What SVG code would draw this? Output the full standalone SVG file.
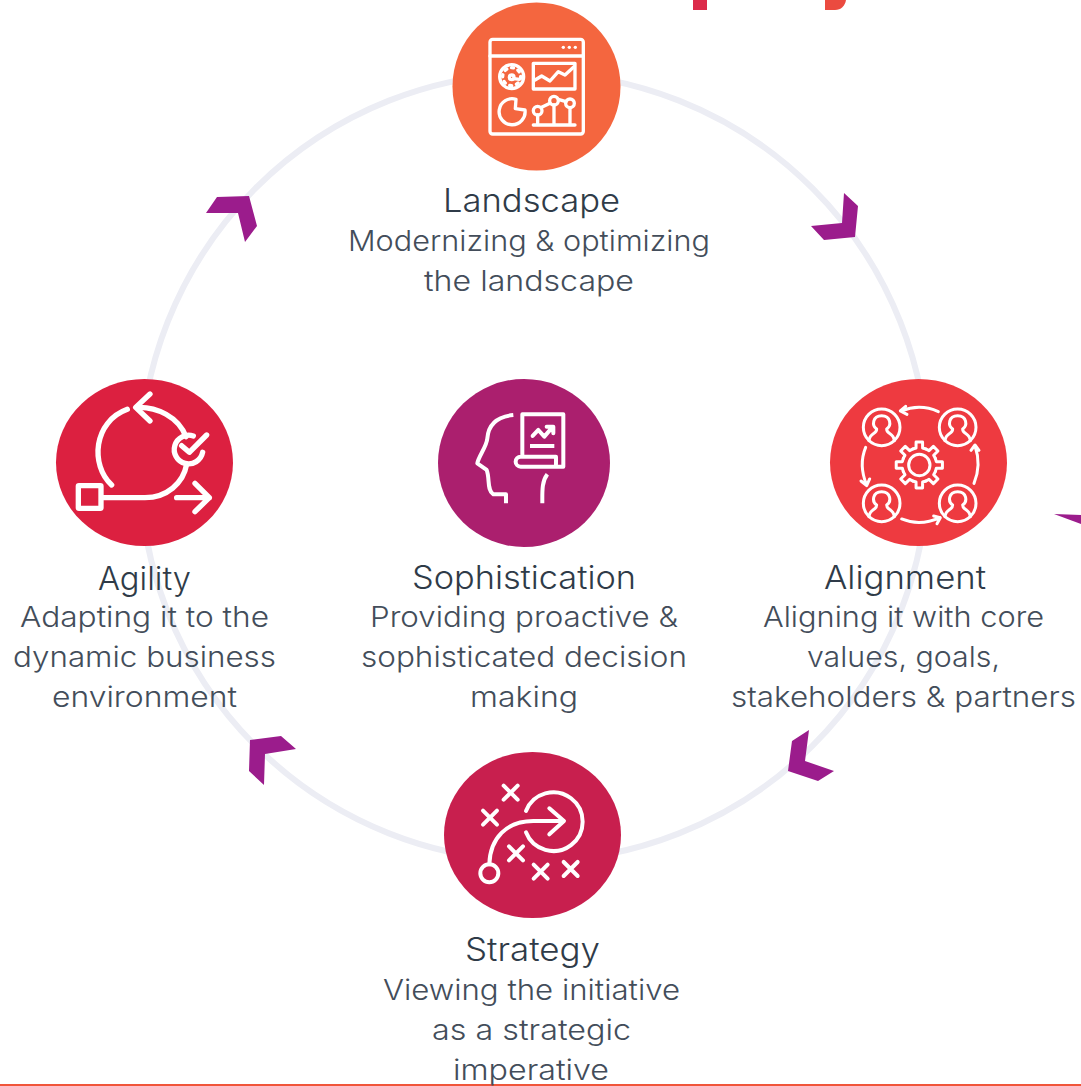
<svg xmlns="http://www.w3.org/2000/svg" xmlns:xlink="http://www.w3.org/1999/xlink" width="1081" height="1086" viewBox="0 0 1081 1086">
<style>
text{font-family:Inter,"Liberation Sans",sans-serif}
.t{font-size:32px;font-weight:300;fill:#2f3b48}
.b{font-size:28px;font-weight:300;fill:#434d5a}
.i{fill:none;stroke:#fff;stroke-linecap:round;stroke-linejoin:round}
.a{fill:#9b1c8c}
</style>
<defs>
<g id="person"><circle r="55"/><path d="M-38 40C-35 15-15 22-15 5C-30-5-28-35 0-35C28-35 30-5 15 5C15 22 35 15 38 40"/></g>
<path id="tooth" d="M-19.9-48L-9.9-51L-9.7-69.3H9.7L9.9-51L19.9-48"/>
<path id="x" d="M-21-21L21 21M21-21L-21 21"/>
</defs>
<rect x="693" y="0" width="14" height="10" fill="#dc2a4a"/>
<path d="M825 0H846C845 6 841 10 835 10H825Z" fill="#eb4b40"/>
<rect x="0" y="1084" width="1081" height="2" fill="#f0553a"/>
<g id="connectors">
<circle cx="534" cy="467" r="394" fill="none" stroke="#ecedf4" stroke-width="6"/>
<polygon class="a" points="206,213 217,197 249,196 257,226 245,242 238,213"/>
<polygon class="a" points="844,193 858,206 855,237 824,240 811,226 842,223"/>
<polygon class="a" points="809,730 792,741 788,771 818,781 834,771 805,761"/>
<polygon class="a" points="250,740 281,736 296,749 265,754 264,785 249,771"/>
<polygon class="a" points="1054,514 1081,515 1081,524"/>
</g>
<g id="landscape">
<circle cx="536.5" cy="86.5" r="84" fill="#f4663f"/>
<g transform="translate(440,0) scale(.3333)" class="i" stroke-width="10">
<rect x="150" y="118" width="280" height="284" rx="8"/>
<path d="M150 168H430"/>
<g style="fill:#fff;stroke:none"><circle cx="370" cy="142" r="5"/><circle cx="388" cy="142" r="5"/><circle cx="406" cy="142" r="5"/></g>
<circle cx="215" cy="230" r="36"/><circle cx="215" cy="230" r="27" stroke-dasharray="6 15"/>
<circle cx="215" cy="232" r="7"/><path d="M222 236L238 238"/>
<rect x="280" y="190" width="125" height="77"/>
<path d="M285 240L305 228L330 243L355 215L375 225L402 200"/>
<path d="M228 298A39 39 0 1 0 255 330L226 326Z"/>
<circle cx="293" cy="332" r="13"/><circle cx="342" cy="302" r="13"/><circle cx="390" cy="310" r="13"/>
<path d="M293 345V375M342 315V375M390 323V375M280 375H405M305 322L330 310M355 298L378 305"/>
</g>
<text class="t" x="443" y="212" textLength="177" lengthAdjust="spacingAndGlyphs">Landscape</text>
<text class="b" x="348" y="251" textLength="362" lengthAdjust="spacingAndGlyphs">Modernizing &amp; optimizing</text>
<text class="b" x="424" y="291" textLength="210" lengthAdjust="spacingAndGlyphs">the landscape</text>
</g>
<g id="agility">
<ellipse cx="144.5" cy="462.5" rx="88.5" ry="83.5" fill="#dc2040"/>
<g transform="translate(50,375) scale(.3333)" class="i" stroke-width="16">
<rect x="85" y="332" width="68" height="68" rx="2"/>
<path d="M155 368H285C350 368 400 325 410 268"/>
<path d="M185 330C120 270 130 140 232 103"/>
<path d="M262 97C320 95 385 125 408 185"/>
<path d="M300 57L257 97L300 138"/>
<path d="M430 183A43 43 0 1 0 458 232"/>
<path d="M395 212L418 232L470 180"/>
<path d="M380 368H478M435 325L478 368L435 410"/>
</g>
<text class="t" x="98" y="590" textLength="93" lengthAdjust="spacingAndGlyphs">Agility</text>
<text class="b" x="20" y="627" textLength="249" lengthAdjust="spacingAndGlyphs">Adapting it to the</text>
<text class="b" x="13" y="667" textLength="263" lengthAdjust="spacingAndGlyphs">dynamic business</text>
<text class="b" x="52" y="707" textLength="185" lengthAdjust="spacingAndGlyphs">environment</text>
</g>
<g id="sophistication">
<ellipse cx="524" cy="463" rx="86" ry="84" fill="#ab1f6e"/>
<g transform="translate(430,375) scale(.3333)" class="i" stroke-width="12">
<path d="M250 120C200 125 175 150 172 190C170 215 145 245 142 265L170 285C180 310 170 345 190 358H228V385" stroke-linecap="butt"/>
<path d="M352 298C335 320 337 350 337 385" stroke-linecap="butt"/>
<path d="M277 245V118H400V275H272A15 15 0 0 1 272 245H378V268"/>
<path d="M308 183L325 165L343 185L366 158M350 155H370V175"/>
<path d="M300 213H373" stroke-linecap="butt"/>
</g>
<text class="t" x="412" y="589" textLength="224" lengthAdjust="spacingAndGlyphs">Sophistication</text>
<text class="b" x="370" y="627" textLength="308" lengthAdjust="spacingAndGlyphs">Providing proactive &amp;</text>
<text class="b" x="361" y="667" textLength="326" lengthAdjust="spacingAndGlyphs">sophisticated decision</text>
<text class="b" x="470" y="707" textLength="108" lengthAdjust="spacingAndGlyphs">making</text>
</g>
<g id="alignment">
<ellipse cx="918.5" cy="462.5" rx="88.5" ry="83.5" fill="#ee3a40"/>
<g transform="translate(825,375) scale(.3333)" class="i" stroke-width="9">
<use href="#person" x="170" y="157"/><use href="#person" x="398" y="157"/><use href="#person" x="170" y="385"/><use href="#person" x="398" y="385"/>
<circle cx="283" cy="270" r="32"/>
<g transform="translate(283,270)">
<use href="#tooth"/><use href="#tooth" transform="rotate(45)"/><use href="#tooth" transform="rotate(90)"/><use href="#tooth" transform="rotate(135)"/><use href="#tooth" transform="rotate(180)"/><use href="#tooth" transform="rotate(225)"/><use href="#tooth" transform="rotate(270)"/><use href="#tooth" transform="rotate(315)"/>
</g>
<path d="M340 110Q285 85 228 108M242 94L226 108L246 118"/>
<path d="M122 217Q100 270 125 330M108 318L125 332L134 312"/>
<path d="M230 432Q285 455 345 428M326 423L346 428L336 446"/>
<path d="M447 325Q470 270 450 212M438 226L450 210L462 226"/>
</g>
<text class="t" x="824" y="589" textLength="162" lengthAdjust="spacingAndGlyphs">Alignment</text>
<text class="b" x="763" y="627" textLength="281" lengthAdjust="spacingAndGlyphs">Aligning it with core</text>
<text class="b" x="807" y="667" textLength="193" lengthAdjust="spacingAndGlyphs">values, goals,</text>
<text class="b" x="731" y="707" textLength="345" lengthAdjust="spacingAndGlyphs">stakeholders &amp; partners</text>
</g>
<g id="strategy">
<ellipse cx="532.5" cy="835" rx="88.5" ry="83" fill="#c81f4e"/>
<g transform="translate(440,745) scale(.3333)" class="i" stroke-width="12">
<use href="#x" x="212" y="143"/><use href="#x" x="150" y="218"/><use href="#x" x="228" y="325"/><use href="#x" x="302" y="380"/><use href="#x" x="392" y="372"/>
<circle cx="148" cy="385" r="27"/>
<path d="M148 358C150 280 200 228 280 228H370"/>
<path d="M328 190L372 228L328 268"/>
<path d="M258 198A88 88 0 1 1 258 262"/>
</g>
<text class="t" x="465" y="961" textLength="135" lengthAdjust="spacingAndGlyphs">Strategy</text>
<text class="b" x="383" y="1000" textLength="297" lengthAdjust="spacingAndGlyphs">Viewing the initiative</text>
<text class="b" x="432" y="1040" textLength="199" lengthAdjust="spacingAndGlyphs">as a strategic</text>
<text class="b" x="453" y="1080" textLength="156" lengthAdjust="spacingAndGlyphs">imperative</text>
</g>
</svg>
